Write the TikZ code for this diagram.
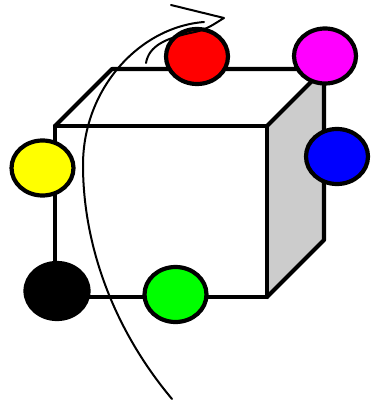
\documentclass[tikz,border=0pt]{standalone}
\usetikzlibrary{shapes.geometric}
\definecolor{pureyellow}{RGB}{255,255,0}
\definecolor{puremagenta}{RGB}{255,0,255}
\definecolor{purered}{RGB}{255,0,0}
\definecolor{pureblue}{RGB}{0,0,255}
\definecolor{puregreen}{RGB}{0,255,0}
\definecolor{sidegrey}{RGB}{204,204,204}
\begin{document}
\begin{tikzpicture}[x=1pt,y=-1pt,
  edge/.style={line width=4.2pt,line join=round,line cap=round},
  dot/.style={ellipse,draw=black,line width=4.2pt,minimum width=62pt,minimum height=55pt,inner sep=0pt,outer sep=0pt},
  thin curve/.style={line width=2pt,line cap=round,line join=round}]
\useasboundingbox (0,0) rectangle (371,403);
\coordinate (fa) at (55,126); \coordinate (fb) at (267,126);
\coordinate (fc) at (267,297); \coordinate (fd) at (55,297);
\coordinate (ba) at (112,69); \coordinate (bb) at (324,69); \coordinate (bc) at (324,240);
\fill[sidegrey] (fb) -- (bb) -- (bc) -- (fc) -- cycle;
\draw[edge] (fa) -- (fb) -- (fc) -- (fd) -- cycle;
\draw[edge] (fa) -- (ba) -- (bb) -- (fb);
\draw[edge] (bb) -- (bc) -- (fc);
\node[dot,fill=purered] (r) at (197,56.5) {};
\node[dot,fill=puremagenta] (m) at (325,56) {};
\node[dot,fill=pureyellow] (y) at (42.5,168) {};
\node[dot,fill=pureblue] (b) at (337,156.5) {};
\node[dot,fill=black,minimum width=63pt,minimum height=56pt] (k) at (57,291) {};
\node[dot,fill=puregreen] (g) at (175.5,294.5) {};
\coordinate (s1) at (172,399); \coordinate (e1) at (204,22);
\draw[thin curve] (s1) .. controls (110,325) and (83,240) .. (83,165)
  .. controls (83,88) and (140,27) .. (e1);
\coordinate (s2) at (146,63); \coordinate (t2) at (224,18); \coordinate (e2) at (171,5);
\draw[thin curve] (s2) .. controls (149,46) and (165,38) .. (195,32)
  .. controls (208,29) and (214,24) .. (t2) -- (e2);
\end{tikzpicture}
\end{document}
